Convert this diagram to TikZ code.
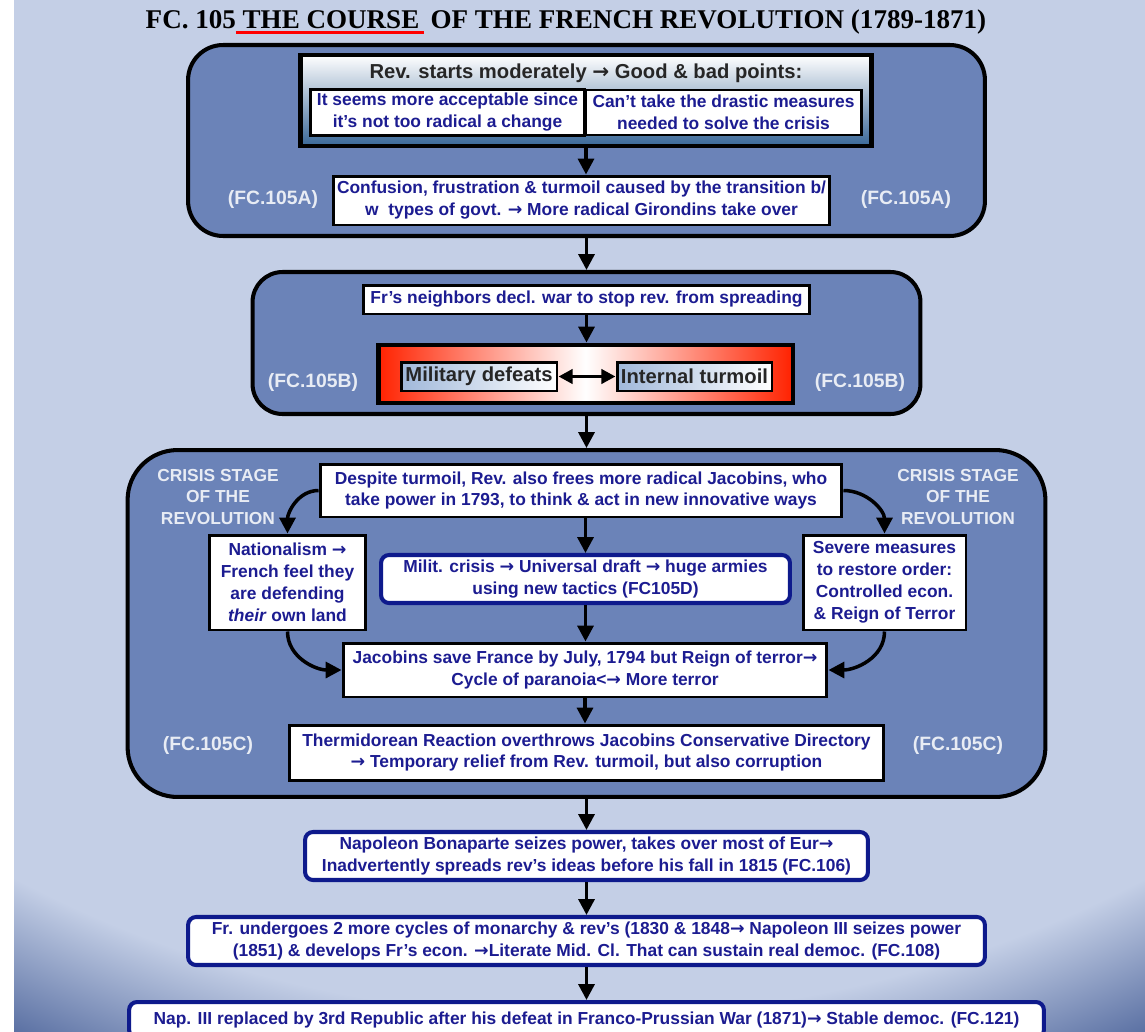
\documentclass[tikz,border=0pt]{standalone}
\usepackage{fontspec}
\setmainfont{Liberation Sans}
\newfontfamily\titlefont{Liberation Serif}
\newfontfamily\arrowfont{DejaVu Sans}
\usetikzlibrary{arrows.meta}

\definecolor{bglight}{RGB}{196,207,230}
\definecolor{bgdark}{RGB}{70,94,150}
\definecolor{stagefill}{RGB}{107,131,184}
\definecolor{navy}{RGB}{28,28,145}
\definecolor{frameline}{RGB}{14,26,140}
\definecolor{redfill}{RGB}{255,34,0}
\definecolor{milblue}{RGB}{160,184,218}
\definecolor{labelcol}{RGB}{232,236,244}
\definecolor{steel}{RGB}{58,104,152}

\pgfdeclareradialshading{bgshade}{\pgfpoint{0bp}{0bp}}{color(0bp)=(bglight); color(18.8bp)=(bglight); color(21.8bp)=(bgdark); color(50bp)=(bgdark)}
\newcommand\redline[1]{\setbox0\hbox{#1}\rlap{\color{red}\rule[-3pt]{\wd0}{1.6pt}}\box0\relax}
\newcommand\ra{{\arrowfont\bfseries →}}

\begin{document}
\begin{tikzpicture}[x=0.02cm,y=-0.02cm,
  txt/.style={font=\fontsize{9.9}{12.5}\selectfont\bfseries},
  big/.style={font=\fontsize{11.5}{13}\selectfont\bfseries},
  stage/.style={draw=black,line width=2.3pt,fill=stagefill},
  box/.style={txt,draw=black,line width=1.7pt,fill=white,text=navy,align=center,inner sep=2pt},
  bluebox/.style={box,draw=frameline,line width=2.3pt,rounded corners=0.16cm},
  tag/.style={font=\fontsize{11}{13}\selectfont\bfseries,text=labelcol,align=center},
  arr/.style={line width=2pt,-{Triangle[length=9pt,width=9pt]}}]

\fill[white] (0,0) rectangle (1145,1031);
\begin{scope}
\clip (14,0) rectangle (1145,1031);
\shade[shading=bgshade] (580,0) ellipse [x radius=29.84cm,y radius=27.04cm];
\end{scope}
\useasboundingbox (0,0) rectangle (1145,1031);

\node at (566,22) (title) {\titlefont\fontsize{15.4}{18}\selectfont\bfseries FC. 105\redline{\ THE COURSE\,} OF THE FRENCH REVOLUTION (1789-1871)};

\node at (586.5,140.5) [stage,rounded corners=0.7cm,minimum width=15.94cm,minimum height=3.82cm] (A) {};
\node at (586,100.5) [draw=black,line width=2.8pt,top color=white,bottom color=steel,minimum width=11.44cm,minimum height=1.82cm] (hdr) {};
\node at (586,73) [big,text=black!85] (hdrtxt) {Rev. starts moderately \ra{} Good \& bad points:};
\node at (447.5,112.5) [box,minimum width=5.5cm,minimum height=0.9cm] (good) {It seems more acceptable since\\it’s not too radical a change};
\node at (723.5,112.5) [box,minimum width=5.54cm,minimum height=0.9cm] (bad) {Can’t take the drastic measures\\needed to solve the crisis};
\node at (581.5,200.5) [box,minimum width=9.94cm,minimum height=0.98cm] (conf) {Confusion, frustration \& turmoil caused by the transition b/\\w\ \ types of govt. \ra{} More radical Girondins take over};
\node at (273,200) [tag] (tagA) {(FC.105A)};
\node at (906,200) [tag] (tagAr) {(FC.105A)};
\draw[arr] (hdr.south) -- (hdr.south |- conf.north);

\node at (586.5,343) [stage,rounded corners=0.6cm,minimum width=13.36cm,minimum height=2.84cm] (B) {};
\node at (586.5,299.5) [box,minimum width=8.94cm,minimum height=0.58cm] (neigh) {Fr’s neighbors decl. war to stop rev. from spreading};
\node at (585.5,374) [draw=black,line width=2.8pt,left color=redfill,right color=redfill,middle color=white,minimum width=8.3cm,minimum height=1.16cm] (loop) {};
\node at (479,376.5) [box,big,text=black!85,left color=milblue,right color=white,minimum width=3.12cm,minimum height=0.58cm] (mil) {Military defeats};
\node at (694.5,376.5) [box,big,text=black!85,left color=milblue,right color=white,minimum width=3.1cm,minimum height=0.58cm] (intl) {Internal turmoil};
\node at (313,382) [tag] (tagB) {(FC.105B)};
\node at (860,382) [tag] (tagBr) {(FC.105B)};
\draw[arr] (neigh.south) -- (neigh.south |- loop.north);
\draw[line width=2pt,{Triangle[length=8pt,width=8pt]}-{Triangle[length=8pt,width=8pt]}] (mil) -- (intl);

\node at (586.5,623.5) [stage,rounded corners=1cm,minimum width=18.36cm,minimum height=6.94cm] (C) {};
\node at (581,490.5) [box,minimum width=10.44cm,minimum height=1.06cm] (desp) {Despite turmoil, Rev. also frees more radical Jacobins, who\\take power in 1793, to think \& act in new innovative ways};
\node at (218,497) [tag,txt,text=labelcol] (stageL) {CRISIS STAGE\\OF THE\\REVOLUTION};
\node at (958,497) [tag,txt,text=labelcol] (stageR) {CRISIS STAGE\\OF THE\\REVOLUTION};
\node at (287.5,582.5) [box,minimum width=3.14cm,minimum height=1.9cm] (nation) {Nationalism \ra\\French feel they\\are defending\\\textit{their} own land};
\node at (585.5,579) [bluebox,minimum width=8.18cm,minimum height=0.96cm] (milit) {Milit. crisis \ra{} Universal draft \ra{} huge armies\\using new tactics (FC105D)};
\node at (884.5,582.5) [box,minimum width=3.26cm,minimum height=1.9cm] (severe) {Severe measures\\to restore order:\\Controlled econ.\\\& Reign of Terror};
\node at (585,670) [box,minimum width=9.68cm,minimum height=1.08cm] (jacob) {Jacobins save France by July, 1794 but Reign of terror\ra\\Cycle of paranoia<\ra{} More terror};
\node at (586.5,752.5) [box,minimum width=11.9cm,minimum height=1.1cm] (therm) {Thermidorean Reaction overthrows Jacobins Conservative Directory\\\ra{} Temporary relief from Rev. turmoil, but also corruption};
\node at (208,745) [tag] (tagC) {(FC.105C)};
\node at (958,745) [tag] (tagCr) {(FC.105C)};
\draw[arr] (desp.west) to[out=180,in=90] (nation.north);
\draw[arr] (desp.east) to[out=0,in=90] (severe.north);
\draw[arr] (nation.south) to[out=-90,in=180] (jacob.west);
\draw[arr] (severe.south) to[out=-90,in=0] (jacob.east);
\draw[arr] (desp.south -| milit.north) -- (milit.north);
\draw[arr] (milit.south) -- (milit.south |- jacob.north);
\draw[arr] (jacob.south) -- (jacob.south |- therm.north);

\node at (586.5,856) [bluebox,minimum width=11.26cm,minimum height=0.96cm] (napo) {Napoleon Bonaparte seizes power, takes over most of Eur\ra\\Inadvertently spreads rev’s ideas before his fall in 1815 (FC.106)};
\node at (586.5,941) [bluebox,minimum width=15.94cm,minimum height=0.96cm] (cycles) {Fr. undergoes 2 more cycles of monarchy \& rev’s (1830 \& 1848\ra{} Napoleon III seizes power\\(1851) \& develops Fr’s econ. \ra Literate Mid. Cl. That can sustain real democ. (FC.108)};
\node at (586.5,1020) [bluebox,minimum width=18.3cm,minimum height=0.72cm,inner sep=1pt] (repub) {Nap. III replaced by 3rd Republic after his defeat in Franco-Prussian War (1871)\ra{} Stable democ. (FC.121)};

\draw[arr] (A.south) -- (B.north);
\draw[arr] (B.south) -- (C.north);
\draw[arr] (C.south) -- (napo.north);
\draw[arr] (napo.south) -- (cycles.north);
\draw[arr] (cycles.south) -- (repub.north);
\end{tikzpicture}
\end{document}
